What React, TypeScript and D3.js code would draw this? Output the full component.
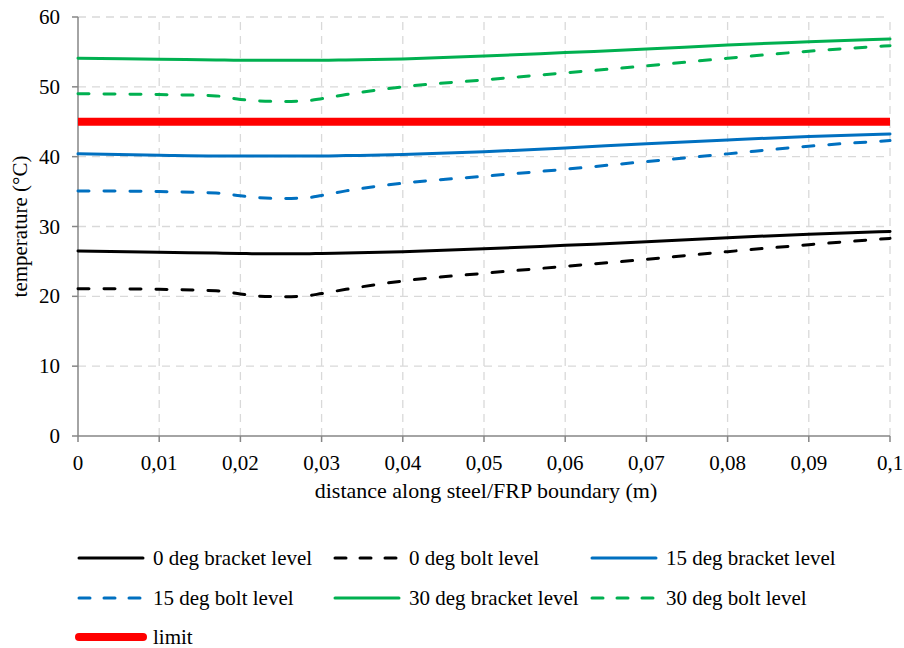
import React from "react";
import * as d3 from "d3";

const xs = [0, 0.01, 0.017, 0.02, 0.022, 0.025, 0.028, 0.03, 0.033, 0.04, 0.05, 0.06, 0.07, 0.08, 0.09, 0.1];
const deg0Bracket = [26.5, 26.3, 26.2, 26.15, 26.1, 26.1, 26.1, 26.15, 26.2, 26.4, 26.8, 27.3, 27.8, 28.4, 28.9, 29.3];
const deg0Bolt = [21.1, 21.0, 20.8, 20.35, 20.05, 19.95, 20.05, 20.4, 21.0, 22.2, 23.3, 24.3, 25.3, 26.4, 27.4, 28.3];
const deg15Bracket = [40.4, 40.2, 40.1, 40.1, 40.1, 40.1, 40.1, 40.1, 40.15, 40.3, 40.7, 41.25, 41.85, 42.4, 42.9, 43.25];
const deg15Bolt = [35.1, 35.0, 34.8, 34.4, 34.15, 34.0, 34.1, 34.45, 35.1, 36.2, 37.2, 38.2, 39.3, 40.4, 41.5, 42.3];
const deg30Bracket = [54.1, 53.95, 53.85, 53.8, 53.8, 53.8, 53.8, 53.8, 53.85, 54.0, 54.4, 54.9, 55.4, 56.0, 56.45, 56.85];
const deg30Bolt = [49.0, 48.9, 48.7, 48.2, 48.0, 47.9, 48.0, 48.3, 48.9, 50.0, 51.0, 52.0, 53.0, 54.1, 55.1, 55.9];
const limitX = [0, 0.1];
const limitY = [45, 45];

const xTicks = [0, 0.01, 0.02, 0.03, 0.04, 0.05, 0.06, 0.07, 0.08, 0.09, 0.1];
const xTickLabels = ["0", "0,01", "0,02", "0,03", "0,04", "0,05", "0,06", "0,07", "0,08", "0,09", "0,1"];
const yTicks = [0, 10, 20, 30, 40, 50, 60];

const seriesNames = [
  "0 deg bracket level",
  "0 deg bolt level",
  "15 deg bracket level",
  "15 deg bolt level",
  "30 deg bracket level",
  "30 deg bolt level",
  "limit",
];

const W = 904;
const H = 648;
const FONT = "'Liberation Serif'";

export default function App() {
  const x = d3.scaleLinear().domain([0, 0.1]).range([78, 890]);
  const y = d3.scaleLinear().domain([0, 60]).range([436, 17]);
  const line = d3
    .line<[number, number]>()
    .x((d) => x(d[0]))
    .y((d) => y(d[1]))
    .curve(d3.curveMonotoneX);

  const DASH = "11 15";
  const series = [
    { name: seriesNames[0], vals: deg0Bracket, color: "#000000", dash: null },
    { name: seriesNames[1], vals: deg0Bolt, color: "#000000", dash: DASH },
    { name: seriesNames[2], vals: deg15Bracket, color: "#0070C0", dash: null },
    { name: seriesNames[3], vals: deg15Bolt, color: "#0070C0", dash: DASH },
    { name: seriesNames[4], vals: deg30Bracket, color: "#00B050", dash: null },
    { name: seriesNames[5], vals: deg30Bolt, color: "#00B050", dash: DASH },
  ];

  const legendItems = [
    ...series.map((s) => ({ name: s.name, color: s.color, dash: s.dash, width: 3 })),
    { name: seriesNames[6], color: "#FF0000", dash: null as string | null, width: 8 },
  ];
  const colX = [77, 333, 590];
  const rowY = [558, 598, 637];

  return (
    <svg width={W} height={H} style={{ position: "absolute", left: 0, top: 0, background: "#fff" }}>
      <rect x={0} y={0} width={W} height={H} fill="#fff" />
      {/* grid */}
      {yTicks.filter((t) => t > 0).map((t) => (
        <line key={"gy" + t} x1={x(0)} x2={x(0.1)} y1={y(t)} y2={y(t)} stroke="#D9D9D9" strokeWidth={1.3} strokeDasharray="8 6" />
      ))}
      {xTicks.filter((t) => t > 0).map((t) => (
        <line key={"gx" + t} x1={x(t)} x2={x(t)} y1={y(0)} y2={y(60)} stroke="#D9D9D9" strokeWidth={1.3} strokeDasharray="8 6" />
      ))}
      {/* axes */}
      <line x1={x(0)} x2={x(0)} y1={y(0)} y2={y(60)} stroke="#868686" strokeWidth={1.5} />
      <line x1={x(0)} x2={x(0.1)} y1={y(0)} y2={y(0)} stroke="#868686" strokeWidth={1.5} />
      {yTicks.map((t) => (
        <g key={"ty" + t}>
          <line x1={x(0) - 6} x2={x(0)} y1={y(t)} y2={y(t)} stroke="#868686" strokeWidth={1.5} />
          <text x={60} y={y(t) + 7} textAnchor="end" fontSize={21} fill="#000" fontFamily={FONT}>{t}</text>
        </g>
      ))}
      {xTicks.map((t, i) => (
        <g key={"tx" + t}>
          <line x1={x(t)} x2={x(t)} y1={y(0)} y2={y(0) + 6} stroke="#868686" strokeWidth={1.5} />
          <text x={x(t)} y={470} textAnchor="middle" fontSize={21} fill="#000" fontFamily={FONT}>{xTickLabels[i]}</text>
        </g>
      ))}
      <text x={(x(0) + x(0.1)) / 2 + 2} y={498} textAnchor="middle" fontSize={22} fill="#000" fontFamily={FONT}>
        distance along steel/FRP boundary (m)
      </text>
      <text transform={`translate(27, ${(y(0) + y(60)) / 2}) rotate(-90)`} textAnchor="middle" fontSize={21} fill="#000" fontFamily={FONT}>
        temperature (°C)
      </text>
      {/* limit */}
      <path
        d={line(limitX.map((v, i) => [v, limitY[i]] as [number, number])) || ""}
        fill="none"
        stroke="#FF0000"
        strokeWidth={8}
      />
      {/* series */}
      {series.map((s) => (
        <path
          key={s.name}
          d={line(xs.map((v, i) => [v, s.vals[i]] as [number, number])) || ""}
          fill="none"
          stroke={s.color}
          strokeWidth={3}
          strokeLinecap="round"
          strokeLinejoin="round"
          strokeDasharray={s.dash || undefined}
        />
      ))}
      {/* legend */}
      {legendItems.map((it, i) => {
        const cx = colX[i % 3];
        const cy = rowY[Math.floor(i / 3)];
        return (
          <g key={"lg" + i}>
            <line
              x1={cx + 2}
              x2={cx + 66}
              y1={cy}
              y2={cy}
              stroke={it.color}
              strokeWidth={it.width}
              strokeLinecap="round"
              strokeDasharray={it.dash ? "11 14" : undefined}
            />
            <text x={cx + 76} y={cy + 7} fontSize={21} fill="#000" fontFamily={FONT}>{it.name}</text>
          </g>
        );
      })}
    </svg>
  );
}
